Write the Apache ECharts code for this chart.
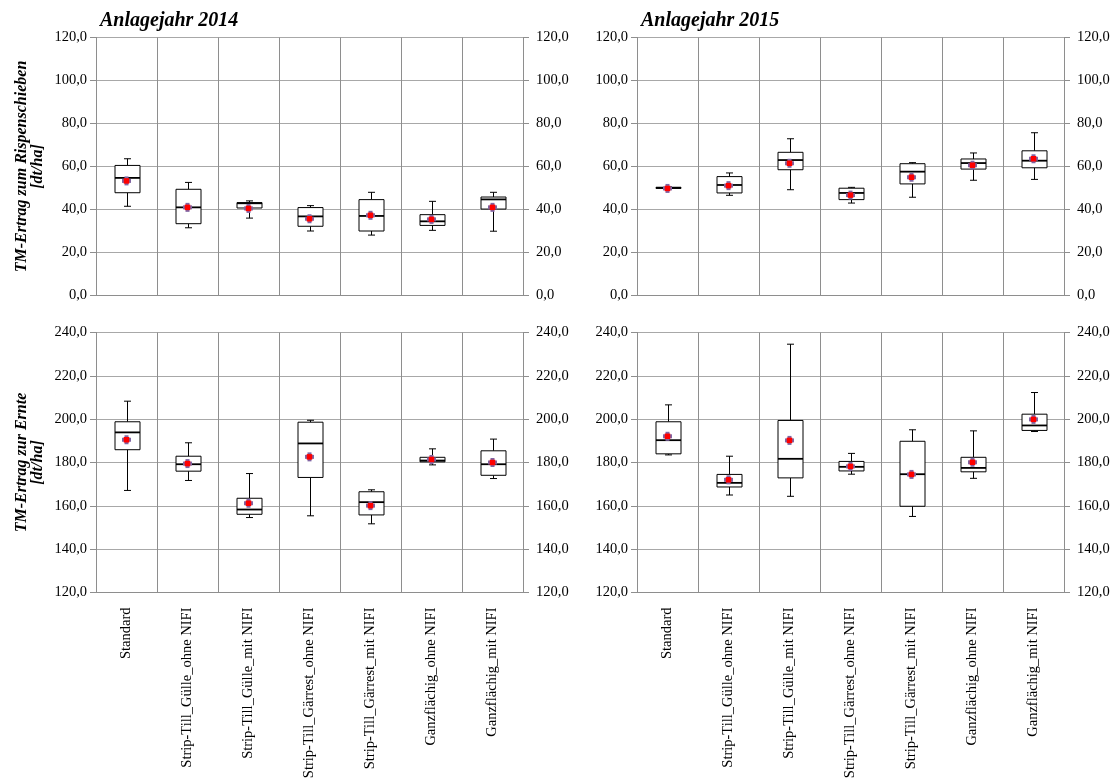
<!DOCTYPE html>
<html>
<head>
<meta charset="utf-8">
<script src="https://cdn.jsdelivr.net/npm/echarts@6/dist/echarts.min.js"></script>
<style>
html,body{margin:0;padding:0;background:#fff;}
#chart{width:1114px;height:783px;}
</style>
</head>
<body>
<div id="chart"></div>
<script>
// ---- data ----
const categories = ['Standard', 'Strip-Till_Gülle_ohne NIFI', 'Strip-Till_Gülle_mit NIFI',
  'Strip-Till_Gärrest_ohne NIFI', 'Strip-Till_Gärrest_mit NIFI', 'Ganzflächig_ohne NIFI', 'Ganzflächig_mit NIFI'];
const panelTitles = ['Anlagejahr 2014', 'Anlagejahr 2015'];
const yNameTop = 'TM-Ertrag zum Rispenschieben\n[dt/ha]';
const yNameBottom = 'TM-Ertrag zur Ernte\n[dt/ha]';
const topTicks = [0, 20, 40, 60, 80, 100, 120];
const bottomTicks = [120, 140, 160, 180, 200, 220, 240];

// rows: [min, Q1, median, Q3, max, mean]
const rispen2014 = [
  [41.5, 47.8, 54.7, 60.5, 63.6, 53.3],
  [31.5, 33.4, 41.0, 49.4, 52.6, 41.0],
  [36.0, 40.7, 42.9, 43.2, 44.0, 40.5],
  [30.0, 32.2, 36.8, 40.9, 41.8, 35.7],
  [28.1, 30.0, 37.0, 44.6, 48.0, 37.3],
  [30.3, 32.6, 34.5, 37.6, 43.8, 35.4],
  [29.9, 40.2, 44.7, 45.8, 48.0, 41.0]
];
const rispen2015 = [
  [49.6, 49.8, 50.1, 50.3, 50.5, 49.8],
  [46.6, 47.7, 51.4, 55.3, 57.0, 51.1],
  [49.2, 58.5, 63.0, 66.6, 72.9, 61.5],
  [43.0, 44.6, 47.7, 49.9, 50.3, 46.7],
  [45.7, 51.9, 57.6, 61.3, 61.8, 55.0],
  [53.6, 58.8, 61.6, 63.5, 66.3, 60.6],
  [54.0, 59.4, 62.7, 67.3, 75.7, 63.6]
];
const ernte2014 = [
  [167.1, 185.9, 193.9, 198.8, 208.3, 190.5],
  [171.7, 176.0, 179.2, 182.9, 189.1, 179.5],
  [154.6, 156.1, 158.3, 163.5, 174.9, 161.2],
  [155.4, 173.1, 188.8, 198.6, 199.5, 182.6],
  [151.7, 155.8, 161.7, 166.5, 167.4, 160.1],
  [178.9, 180.3, 180.9, 182.4, 186.3, 181.4],
  [172.6, 174.1, 179.2, 185.4, 190.8, 180.0]
];
const ernte2015 = [
  [183.5, 184.0, 190.3, 198.8, 206.6, 192.1],
  [165.0, 168.7, 170.6, 174.5, 182.9, 172.0],
  [164.4, 172.9, 181.7, 199.4, 234.6, 190.2],
  [174.6, 176.1, 178.0, 180.5, 184.2, 178.2],
  [155.1, 159.8, 174.6, 189.8, 195.1, 174.5],
  [172.7, 175.7, 177.5, 182.4, 194.6, 180.1],
  [194.3, 194.8, 197.1, 202.3, 212.3, 199.9]
];

// ---- chart ----
const FONT = '"Liberation Serif", "Times New Roman", serif';
const GRID_H = '#a8a8a8';
const GRID_V = '#8e8e8e';
const panels = [
  { data: rispen2014, ticks: topTicks, grid: { left: 96, top: 37.5, width: 427, height: 258 }, labels: false },
  { data: rispen2015, ticks: topTicks, grid: { left: 637, top: 37.5, width: 427, height: 258 }, labels: false },
  { data: ernte2014, ticks: bottomTicks, grid: { left: 96, top: 332.5, width: 427, height: 260 }, labels: true },
  { data: ernte2015, ticks: bottomTicks, grid: { left: 637, top: 332.5, width: 427, height: 260 }, labels: true }
];

const fmt = v => v.toFixed(1).replace('.', ',');

function renderBox(params, api) {
  const i = api.value(0);
  const pMin = api.coord([i, api.value(1)]);
  const pQ1 = api.coord([i, api.value(2)]);
  const pMed = api.coord([i, api.value(3)]);
  const pQ3 = api.coord([i, api.value(4)]);
  const pMax = api.coord([i, api.value(5)]);
  const pMean = api.coord([i, api.value(6)]);
  const band = api.size([1, 0])[0];
  const bw = Math.round(band * 0.41);
  const cw = Math.round(band * 0.12);
  const cx = Math.round(pMed[0]) + 0.5;
  const line = (x1, y1, x2, y2, w) => ({
    type: 'line', shape: { x1, y1, x2, y2 },
    style: { stroke: '#000', lineWidth: w || 1 }
  });
  const mx = pMean[0], my = pMean[1];
  return {
    type: 'group',
    children: [
      line(cx, pMax[1], cx, pQ3[1]),
      line(cx, pQ1[1], cx, pMin[1]),
      line(cx - cw / 2, pMax[1], cx + cw / 2, pMax[1]),
      line(cx - cw / 2, pMin[1], cx + cw / 2, pMin[1]),
      { type: 'rect', shape: { x: cx - bw / 2, y: pQ3[1], width: bw, height: pQ1[1] - pQ3[1] },
        style: { fill: '#fff', stroke: '#000', lineWidth: 1 } },
      line(cx - bw / 2, pMed[1], cx + bw / 2, pMed[1], 1.8),
      { type: 'rect', shape: { x: mx - 4.5, y: my - 2, width: 9, height: 4 }, style: { fill: '#8064a2' } },
      { type: 'rect', shape: { x: mx - 2, y: my - 4.5, width: 4, height: 9 }, style: { fill: '#8064a2' } },
      { type: 'rect', shape: { x: mx - 2.75, y: my - 2.75, width: 5.5, height: 5.5 }, style: { fill: '#ff0000' } }
    ]
  };
}

const option = {
  animation: false,
  backgroundColor: '#fff',
  title: panelTitles.map((t, k) => ({
    text: t, left: k === 0 ? 95 : 636, top: 6,
    textStyle: { fontFamily: FONT, fontSize: 20, fontStyle: 'italic', fontWeight: 'bold', color: '#000' }
  })),
  grid: panels.map(p => p.grid),
  xAxis: panels.map((p, k) => ({
    type: 'category', gridIndex: k, data: categories, boundaryGap: true,
    axisLine: { show: true, lineStyle: { color: GRID_V, width: 1 } },
    axisTick: { show: false },
    splitLine: { show: true, lineStyle: { color: GRID_V, width: 1 } },
    axisLabel: {
      show: p.labels, rotate: 90, margin: 15, interval: 0,
      fontFamily: FONT, fontSize: 14.5, color: '#000'
    }
  })),
  yAxis: panels.flatMap((p, k) => {
    const base = {
      type: 'value', gridIndex: k,
      min: p.ticks[0], max: p.ticks[p.ticks.length - 1], interval: p.ticks[1] - p.ticks[0],
      axisLine: { show: true, lineStyle: { color: GRID_V, width: 1 } },
      axisTick: { show: true, inside: false, length: 6, lineStyle: { color: GRID_V } },
      axisLabel: { formatter: fmt, fontFamily: FONT, fontSize: 14.5, color: '#000' }
    };
    return [
      Object.assign({}, base, {
        position: 'left',
        splitLine: { show: true, lineStyle: { color: GRID_H, width: 1 } },
        axisLabel: Object.assign({}, base.axisLabel, { margin: 9 })
      }),
      Object.assign({}, base, {
        position: 'right',
        splitLine: { show: false },
        axisLabel: Object.assign({}, base.axisLabel, { margin: 13 })
      })
    ];
  }),
  graphic: [
    { type: 'text', x: 30, y: 166.5, rotation: Math.PI / 2,
      style: { text: yNameTop, textAlign: 'center', textVerticalAlign: 'middle',
        font: 'italic bold 16px ' + FONT, lineHeight: 16, fill: '#000' } },
    { type: 'text', x: 30, y: 462.5, rotation: Math.PI / 2,
      style: { text: yNameBottom, textAlign: 'center', textVerticalAlign: 'middle',
        font: 'italic bold 16px ' + FONT, lineHeight: 16, fill: '#000' } }
  ],
  series: panels.map((p, k) => ({
    type: 'custom', xAxisIndex: k, yAxisIndex: 2 * k,
    renderItem: renderBox,
    encode: { x: 0, y: [1, 2, 3, 4, 5, 6] },
    data: p.data.map((r, i) => [i].concat(r)),
    z: 5
  }))
};

const chart = echarts.init(document.getElementById('chart'), null, { renderer: 'canvas' });
chart.setOption(option);
</script>
</body>
</html>
